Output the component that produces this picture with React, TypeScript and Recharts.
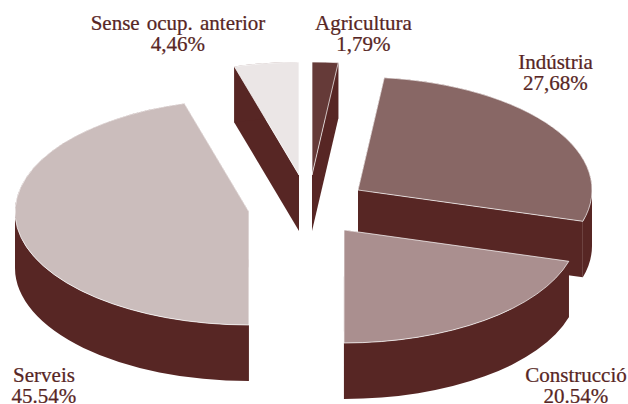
import React from 'react';
import { PieChart, Pie, Cell } from 'recharts';

// Dades del gràfic
const categories = ['Agricultura', 'Indústria', 'Construcció', 'Serveis', 'Sense ocup. anterior'];
const shares = [1.79, 27.68, 20.54, 45.54, 4.46];
const shareLabels = ['1,79%', '27,68%', '20.54%', '45.54%', '4,46%'];

const topColors = ['#653a38', '#886765', '#aa8f8f', '#cbbdbc', '#ebe6e6'];
const wallColor = '#572624';

// Pie centre and how each slice is pulled out of it
const CX = 305;
const CY = 205;
const RADIUS = 234;
const SQUASH = 113 / 234;
const DEPTH = 56;
const explode = [
  [7, -30],
  [53, -15],
  [39, 25],
  [-56, 7],
  [-6, -30],
];
const labelAnchors = [
  [363.5, 30.5],
  [555.5, 69],
  [576, 382],
  [44, 382],
  [178, 30.5],
];

const RAD = Math.PI / 180;

function SliceShape(props: any) {
  const { cx, cy, outerRadius, startAngle, endAngle, index, fill } = props;
  const [dx, dy] = explode[index];
  const ox = cx + dx;
  const oy = cy + dy;
  const rx = outerRadius;
  const ry = outerRadius * SQUASH;
  const px = (a: number) => ox + rx * Math.cos(a * RAD);
  const py = (a: number) => oy - ry * Math.sin(a * RAD);
  const large = Math.abs(startAngle - endAngle) > 180 ? 1 : 0;

  const top = `M${ox},${oy} L${px(startAngle)},${py(startAngle)} A${rx},${ry} 0 ${large} 1 ${px(endAngle)},${py(endAngle)} Z`;
  const wall = (a: number) =>
    `M${ox},${oy} L${px(a)},${py(a)} L${px(a)},${py(a) + DEPTH} L${ox},${oy + DEPTH} Z`;

  // the rim band folds over itself at the left/right extremes, so cut it there
  const stops = [startAngle, ...[0, -180].filter((a) => a < startAngle && a > endAngle), endAngle];
  const rims = stops.slice(1).map((b, i) => {
    const a = stops[i];
    return `M${px(a)},${py(a)} A${rx},${ry} 0 0 1 ${px(b)},${py(b)} L${px(b)},${py(b) + DEPTH} A${rx},${ry} 0 0 0 ${px(a)},${py(a) + DEPTH} Z`;
  });

  return (
    <g>
      <path d={wall(startAngle)} fill={wallColor} />
      <path d={wall(endAngle)} fill={wallColor} />
      {rims.map((d) => (
        <path key={d} d={d} fill={wallColor} />
      ))}
      <path d={top} fill={fill} stroke="#ffffff" strokeWidth={0.7} />
    </g>
  );
}

function SliceLabel(props: any) {
  const { index } = props;
  const [x, y] = labelAnchors[index];
  const style = {
    fontFamily: '"Liberation Serif", serif',
    fontSize: 22,
    fill: wallColor,
    stroke: wallColor,
    strokeWidth: 0.25,
    wordSpacing: 2,
  };
  return (
    <text
      x={x}
      y={y}
      textAnchor="middle"
      style={style}
      transform={`translate(${x} 0) scale(0.955 1) translate(${-x} 0)`}
    >
      <tspan x={x} y={y}>{categories[index]}</tspan>
      <tspan x={x} y={y + 21}>{shareLabels[index]}</tspan>
    </text>
  );
}

const chartData = categories.map((name, i) => ({ name, value: shares[i] }));

export default function App() {
  return (
    <div style={{ position: 'absolute', left: 0, top: 0, width: 628, height: 404, background: '#ffffff' }}>
      <PieChart width={628} height={404} margin={{ top: 0, right: 0, bottom: 0, left: 0 }}>
        <Pie
          data={chartData}
          dataKey="value"
          nameKey="name"
          cx={CX}
          cy={CY}
          innerRadius={0}
          outerRadius={RADIUS}
          startAngle={90}
          endAngle={-270}
          paddingAngle={0}
          stroke="none"
          isAnimationActive={false}
          shape={SliceShape}
          label={SliceLabel}
          labelLine={false}
        >
          {categories.map((name, i) => (
            <Cell key={name} fill={topColors[i]} />
          ))}
        </Pie>
      </PieChart>
    </div>
  );
}
